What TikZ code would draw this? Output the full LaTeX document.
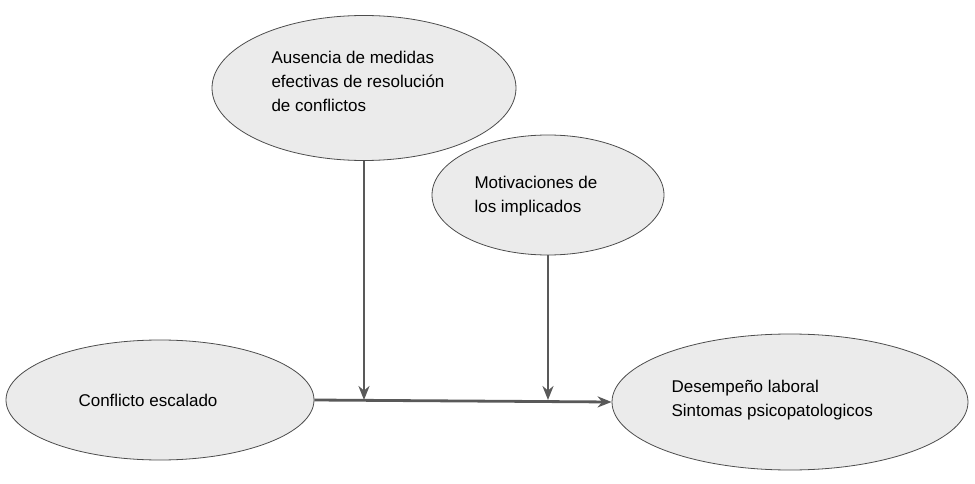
\documentclass[tikz,border=0pt]{standalone}
\usepackage{fontspec}
\setmainfont{Liberation Sans}
\usetikzlibrary{shapes.geometric,arrows.meta}
\tikzset{
 ell/.style={ellipse,draw=black!70,fill=black!8,line width=0.8pt},
 txt/.style={align=left,font=\fontsize{17}{24}\selectfont,anchor=west},
 con/.style={draw=black!65,line width=2.8pt,-{Stealth[length=14pt,width=11pt]}}
}
\begin{document}
\begin{tikzpicture}[x=1pt,y=-1pt]
\useasboundingbox (0,0) rectangle (975,484);
\node[ell,minimum width=304pt,minimum height=145pt] (a) at (364,88) {};
\node[txt] at (268,81) {Ausencia de medidas\\efectivas de resolución\\de conflictos};
\node[ell,minimum width=232pt,minimum height=120pt] (m) at (548,195) {};
\node[txt] at (471,196) {Motivaciones de\\los implicados};
\node[ell,minimum width=308pt,minimum height=120pt] (c) at (160,400) {};
\node[txt] at (75,400) {Conflicto escalado};
\node[ell,minimum width=356pt,minimum height=136pt] (d) at (790,402) {};
\node[txt] at (668,400) {Desempeño laboral\\Sintomas psicopatologicos};
\coordinate (j1) at (364,400);
\coordinate (j2) at (548,400);
\draw[con] (c.east) -- (d.west);
\draw[con] (a.south) -- (j1);
\draw[con] (m.south) -- (j2);
\end{tikzpicture}
\end{document}
